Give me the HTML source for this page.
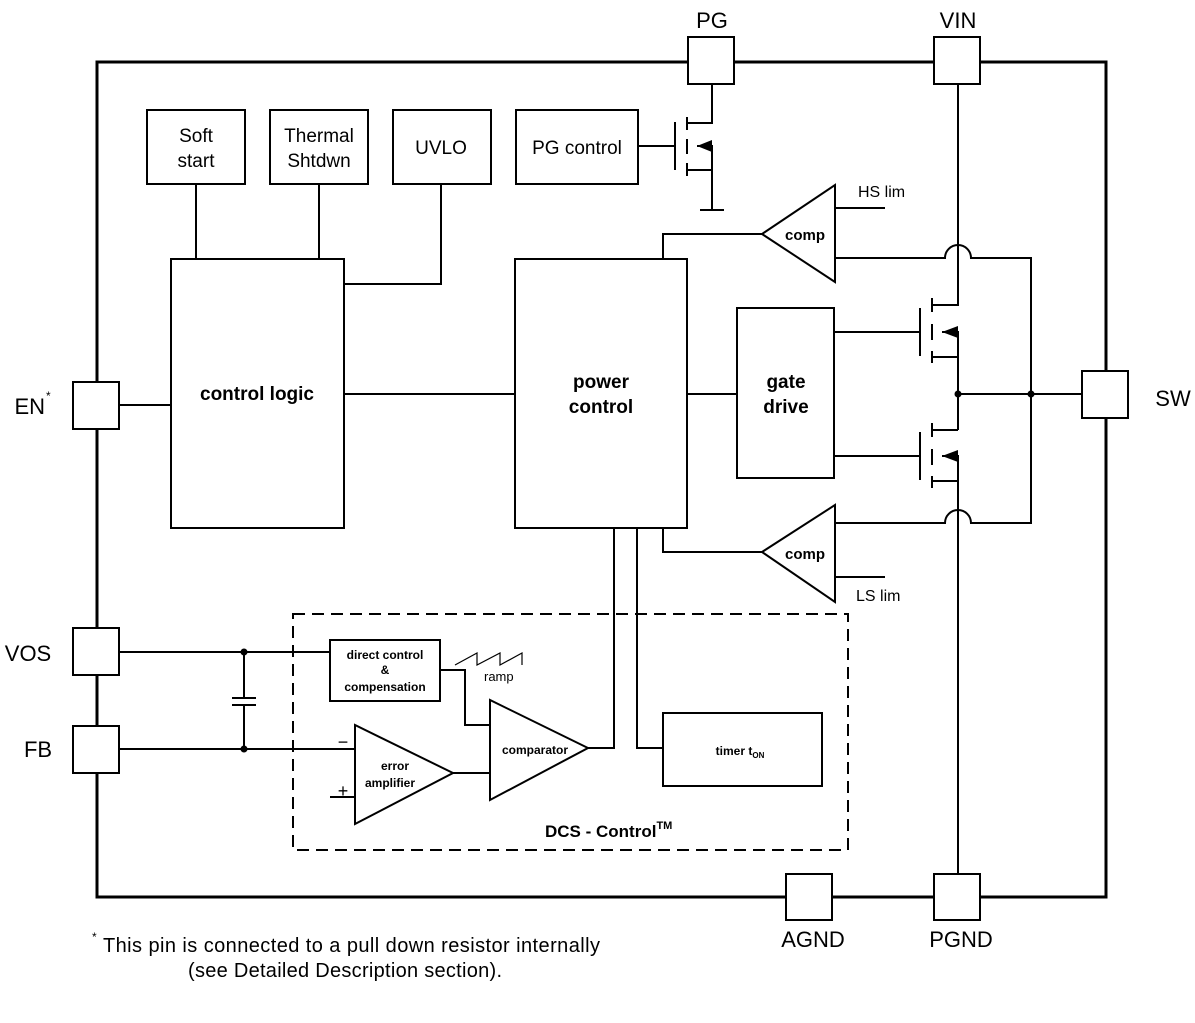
<!DOCTYPE html>
<html><head><meta charset="utf-8"><style>body{margin:0;background:#fff}svg{display:block}text{font-family:"Liberation Sans",Arial,sans-serif}</style></head><body>
<svg width="1195" height="1023" viewBox="0 0 1195 1023" xmlns="http://www.w3.org/2000/svg">
<g fill="none" stroke="#000" stroke-width="2">
<rect x="97" y="62" width="1009" height="835" stroke-width="3"/>
<g fill="#fff">
<rect x="688" y="37" width="46" height="47"/>
<rect x="934" y="37" width="46" height="47"/>
<rect x="73" y="382" width="46" height="47"/>
<rect x="1082" y="371" width="46" height="47"/>
<rect x="73" y="628" width="46" height="47"/>
<rect x="73" y="726" width="46" height="47"/>
<rect x="786" y="874" width="46" height="46"/>
<rect x="934" y="874" width="46" height="46"/>
</g>
<rect x="147" y="110" width="98" height="74"/>
<rect x="270" y="110" width="98" height="74"/>
<rect x="393" y="110" width="98" height="74"/>
<rect x="516" y="110" width="122" height="74"/>
<rect x="171" y="259" width="173" height="269"/>
<rect x="515" y="259" width="172" height="269"/>
<rect x="737" y="308" width="97" height="170"/>
<path d="M196 184V259M319 184V259M441 184V284H344M119 405H171M344 394H515M687 394H737"/>
<path d="M638 146H675M675 122V170M687 117V130M687 139V154M687 163V176M687 123H712V84M697 146H712V210M687 170H712M700 210H724"/>
<path d="M835 185V282L762 234Z"/>
<path d="M762 234H663V259M835 208H885M835 258H945A13 13 0 0 1 971 258H1031V523H971A13 13 0 0 0 945 523H835"/>
<path d="M835 505V602L762 552Z"/>
<path d="M762 552H663V528M835 577H885"/>
<path d="M958 84V305H932M932 298V312M932 324V340M932 351V363M834 332H920M920 308V356M942 332H958V430M932 357H958M958 394H1082"/>
<path d="M932 430H958M932 423V437M932 449V465M932 476V488M834 456H920M920 432V480M942 456H958V874M932 481H958"/>
<rect x="293" y="614" width="555" height="236" stroke-dasharray="12,7"/>
<rect x="330" y="640" width="110" height="61"/>
<rect x="663" y="713" width="159" height="73"/>
<path d="M119 652H330M119 749H355M244 652V698M244 705V749M232 698H256M232 705H256"/>
<path d="M355 725V824L453 773Z"/>
<path d="M490 700V800L588 748Z"/>
<path d="M453 773H490M330 797H355M440 670H465V725H490M588 748H614V528M637 528V748H663"/>
<path d="M455 665L477 653V665L500 653V665L522 653V665" stroke-width="1.2"/>
</g>
<g fill="#000">
<circle cx="958" cy="394" r="3.5"/><circle cx="1031" cy="394" r="3.5"/>
<circle cx="244" cy="652" r="3.5"/><circle cx="244" cy="749" r="3.5"/>
<path d="M697 146L712 140V152Z"/>
<path d="M942 332L958 326V338Z"/>
<path d="M942 456L958 450V462Z"/>
</g>
<g font-size="22" text-anchor="middle">
<text x="712" y="28">PG</text><text x="958" y="28">VIN</text>
<text x="1173" y="406">SW</text><text x="28" y="661">VOS</text><text x="38" y="757">FB</text>
<text x="813" y="947">AGND</text><text x="961" y="947">PGND</text>
</g>
<text x="45" y="414" font-size="22" text-anchor="end">EN</text><text x="46" y="400" font-size="12">*</text>
<g font-size="19" text-anchor="middle">
<text x="196" y="142">Soft</text><text x="196" y="167">start</text>
<text x="319" y="142">Thermal</text><text x="319" y="167">Shtdwn</text>
<text x="441" y="154">UVLO</text><text x="577" y="154">PG control</text>
</g>
<g font-size="19" font-weight="bold" text-anchor="middle">
<text x="257" y="400">control logic</text>
<text x="601" y="388">power</text><text x="601" y="413">control</text>
<text x="786" y="388">gate</text><text x="786" y="413">drive</text>
</g>
<g font-size="15" font-weight="bold" text-anchor="middle">
<text x="805" y="240">comp</text><text x="805" y="559">comp</text>
</g>
<g font-size="16" text-anchor="start">
<text x="858" y="197">HS lim</text><text x="856" y="601">LS lim</text>
</g>
<g font-size="12" font-weight="bold" text-anchor="middle">
<text x="385" y="659">direct control</text><text x="385" y="674">&amp;</text><text x="385" y="691">compensation</text>
<text x="535" y="754">comparator</text>
<text x="395" y="770">error</text><text x="390" y="787">amplifier</text>
<text x="740" y="755">timer t<tspan font-size="8" dy="3">ON</tspan></text>
</g>
<text x="484" y="681" font-size="13">ramp</text>
<text x="343" y="748" font-size="18" text-anchor="middle">−</text>
<text x="343" y="797" font-size="18" text-anchor="middle">+</text>
<text x="545" y="837" font-size="17" font-weight="bold">DCS - Control<tspan font-size="11" dy="-8">TM</tspan></text>
<text x="92" y="941" font-size="12">*</text>
<text x="103" y="952" font-size="20" textLength="497">This pin is connected to a pull down resistor internally</text>
<text x="188" y="977" font-size="20" textLength="314">(see Detailed Description section).</text>
</svg>
</body></html>
